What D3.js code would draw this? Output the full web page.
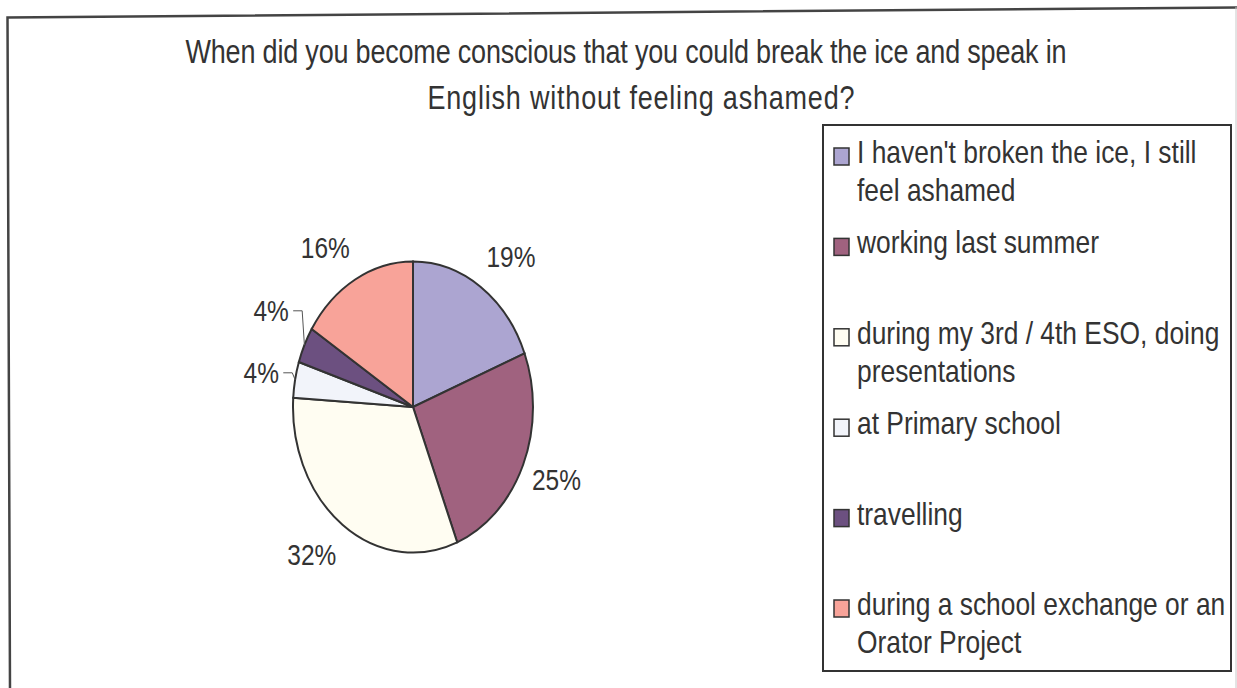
<!DOCTYPE html>
<html>
<head>
<meta charset="utf-8">
<script src="https://cdn.jsdelivr.net/npm/d3@7/dist/d3.min.js"></script>
<style>
  html, body { margin: 0; padding: 0; background: #fff; }
  svg { display: block; }
  text { font-family: "Liberation Sans", Arial, Helvetica, sans-serif; fill: #333; }
</style>
</head>
<body>
<svg id="chart" width="1237" height="688"></svg>
<script>
// Survey question and answers
const titleLines = [
  "When did you become conscious that you could break the ice and speak in",
  "English without feeling ashamed?"
];
const categories = [
  "I haven't broken the ice, I still\nfeel ashamed",
  "working last summer",
  "during my 3rd / 4th ESO, doing\npresentations",
  "at Primary school",
  "travelling",
  "during a school exchange or an\nOrator Project"
];
const shares = [19, 25, 32, 4, 4, 16];
const sliceColors = ["#aca5d1", "#a0627f", "#fffdf2", "#f2f4fa", "#6c5080", "#f8a399"];

// Everything is drawn slightly taller than wide
const SY = 1.2125;
const ink = "#333";

const svg = d3.select("#chart");

// Outer frame
svg.append("path")
  .attr("d", "M10,688 L7.5,17.5 L1237,7.5")
  .attr("fill", "none").attr("stroke", "#444").attr("stroke-width", 2.5);
svg.append("line")
  .attr("x1", 1236).attr("y1", 7).attr("x2", 1236).attr("y2", 688)
  .attr("stroke", "#c8c8c8").attr("stroke-width", 1);

function stretchedText(parent, x, y, str, size, anchor) {
  return parent.append("text")
    .attr("transform", `translate(${x},${y}) scale(1,${SY})`)
    .attr("text-anchor", anchor || "start")
    .style("font-size", size + "px")
    .text(str);
}

// Title, two centred lines
const titleCenters = [626, 641];
const titleBaselines = [63, 109];
const titleWidths = [881, 427];
titleLines.forEach((t, i) => {
  stretchedText(svg, titleCenters[i], titleBaselines[i], t, 27, "middle")
    .attr("textLength", titleWidths[i])
    .attr("lengthAdjust", "spacing");
});

// Pie
const cx = 413, cy = 407, R = 120;
const pie = d3.pie().sort(null).value(d => d);
const arcs = pie(shares);
const arc = d3.arc().innerRadius(0).outerRadius(R);

const pieG = svg.append("g").attr("transform", `translate(${cx},${cy}) scale(1,${SY})`);
pieG.selectAll("path")
  .data(arcs)
  .join("path")
  .attr("d", arc)
  .attr("fill", (d, i) => sliceColors[i])
  .attr("stroke", ink)
  .attr("stroke-width", 2)
  .attr("vector-effect", "non-scaling-stroke");

// Percentage labels placed just outside the rim
const labelSize = 24.5;
const minGap = 62;           // vertical room kept between neighbouring thin-slice labels
const labelG = svg.append("g");
let prevSmallY = null;
arcs.forEach((d, i) => {
  const mid = (d.startAngle + d.endAngle) / 2;
  const s = Math.sin(mid), c = Math.cos(mid);
  const ex = cx + R * s, ey = cy - R * c * SY;           // rim point at mid angle
  const lx = ex + Math.sign(s) * 26 + s * 8;
  let ly = ey - c * 37;
  const small = d.data < 5;
  if (small) {
    if (prevSmallY !== null && prevSmallY - ly < minGap) ly = prevSmallY - minGap;
    prevSmallY = ly;
  }
  const txt = d3.format(".0%")(d.data / 100);
  stretchedText(labelG, lx, ly + labelSize * 0.36 * SY, txt, labelSize, "middle");
  if (small) {
    // leader line for the thin slices
    const x0 = lx + 22;
    labelG.append("polyline")
      .attr("points", `${x0},${ly} ${x0 + 9},${ly} ${ex},${ey}`)
      .attr("fill", "none")
      .attr("stroke", "#555")
      .attr("stroke-width", 1);
  }
});

// Legend
const legendG = svg.append("g");
legendG.append("rect")
  .attr("x", 823).attr("y", 125).attr("width", 408).attr("height", 546)
  .attr("fill", "#fff").attr("stroke", ink).attr("stroke-width", 2);

const rowY = d3.scalePoint().domain(categories).range([163, 615]);
const legendSize = 26.4;
categories.forEach((cat, i) => {
  const y0 = rowY(cat);
  legendG.append("rect")
    .attr("x", 834).attr("y", y0 - 15).attr("width", 15).attr("height", 17)
    .attr("fill", sliceColors[i]).attr("stroke", ink).attr("stroke-width", 1.5);
  cat.split("\n").forEach((line, k) => {
    stretchedText(legendG, 857, y0 + k * 38, line, legendSize, "start");
  });
});
</script>
</body>
</html>
